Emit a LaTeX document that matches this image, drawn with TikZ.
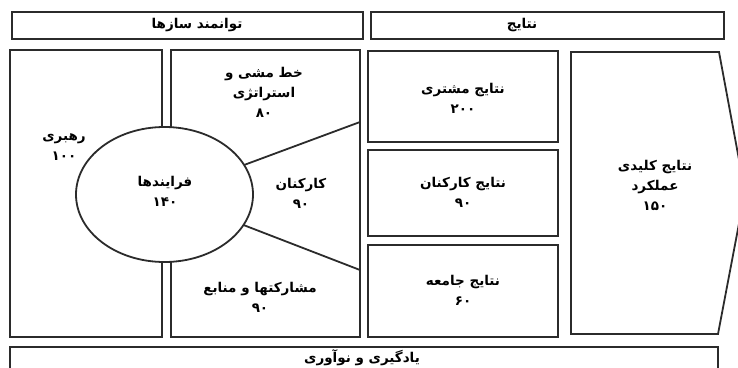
\documentclass[tikz,border=0pt]{standalone}
\usepackage{fontspec}
\usetikzlibrary{shapes.geometric}
\newfontfamily\arabicfont[Script=Arabic]{DejaVu Sans Bold}
\TeXXeTstate=1
\newcommand\fa[1]{\beginR #1\endR}
\definecolor{lc}{HTML}{2B2B2B}
\begin{document}
\begin{tikzpicture}[x=1pt,y=-1pt,
  box/.style={draw=lc, line width=1.8pt},
  lbl/.style={font=\arabicfont\fontsize{13.5}{20}\selectfont, align=center, inner sep=0pt, text=black}]
\useasboundingbox (0,0) rectangle (738,367);
\clip (0,0) rectangle (738,367);
% header bars
\draw[box] (12,12) rectangle (363,39);
\node[lbl] (hEnab) at (197,25) {\fa{توانمند سازها}};
\draw[box] (371,12) rectangle (724,39);
\node[lbl] (hRes) at (522,25) {\fa{نتایج}};
% enablers columns
\draw[box] (10,50) rectangle (162,337);
\draw[box] (171,50) rectangle (360,337);
\coordinate (pc) at (164.5,194.5);
\coordinate (pU) at (360,122);
\coordinate (pL) at (360,270);
\draw[box] (pc) -- (pU);
\draw[box] (pc) -- (pL);
\node[box, fill=white, ellipse, minimum width=177pt, minimum height=135pt, inner sep=0pt] (procShape) at (pc) {};
\node[lbl] (lead) at (64,147) {\fa{رهبری}\\۱۰۰};
\node[lbl] (strat) at (264,92) {\fa{خط مشی و}\\\fa{استراتژی}\\۸۰};
\node[lbl] (proc) at (165,191) {\fa{فرایندها}\\۱۴۰};
\node[lbl] (people) at (301,193) {\fa{کارکنان}\\۹۰};
\node[lbl] (partn) at (260,297) {\fa{مشارکتها و منابع}\\۹۰};
% results
\draw[box] (368,51) rectangle (558,142);
\draw[box] (368,150) rectangle (558,236);
\draw[box] (368,245) rectangle (558,337);
\node[lbl] (rCust) at (463,98) {\fa{نتایج مشتری}\\۲۰۰};
\node[lbl] (rPeople) at (463,192) {\fa{نتایج کارکنان}\\۹۰};
\node[lbl] (rSoc) at (463,290) {\fa{نتایج جامعه}\\۶۰};
\draw[box] (571,52) -- (719,52) -- (745,192) -- (718,334) -- (571,334) -- cycle;
\node[lbl] (rKey) at (655,185) {\fa{نتایج کلیدی}\\\fa{عملکرد}\\۱۵۰};
% bottom bar
\draw[box] (10,347) rectangle (718,385);
\node[lbl] (learn) at (362,358) {\fa{یادگیری و نوآوری}};
\end{tikzpicture}
\end{document}
